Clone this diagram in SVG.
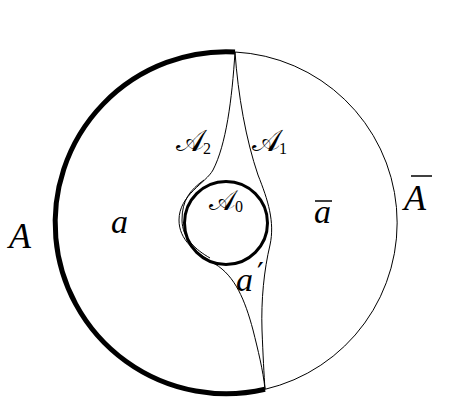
<svg xmlns="http://www.w3.org/2000/svg" width="461" height="402" viewBox="0 0 461 402">
<style>
.thin{fill:none;stroke:#000;stroke-width:1}
.thick{fill:none;stroke:#000;stroke-width:5}
.lbl{font-family:"Liberation Serif","DejaVu Serif",serif;font-style:italic;fill:#000}
.cal{font-family:"DejaVu Serif","Noto Sans","Liberation Serif",serif;fill:#000}
.sub{font-family:"Liberation Serif","DejaVu Serif",serif;font-size:16px;fill:#000}
</style>
<rect width="461" height="402" fill="#fff"/>
<g id="outer-circle">
<path class="thin" d="M235,52 A171,171 0 0 1 265,389.3"/>
<path class="thick" d="M265,389.3 A171,171 0 1 1 235,52"/>
</g>
<g id="inner-circle">
<circle cx="226" cy="223" r="41.5" fill="none" stroke="#000" stroke-width="3"/>
</g>
<g id="connectors">
<path class="thin" d="M235,52 C238,95 246,140 258,175 C268,200 275,222 270,245 C264,270 261,300 262,330 C263,355 264,375 265,389"/>
<path class="thin" d="M235,52 C232,100 226,145 213,170 C206,183 179,195 179,220 C179,240 195,252 215,264 C235,276 245,300 253,330 C258,350 263,370 265,389"/>
<path class="thin" stroke-width="0.8" d="M204,180 C190,190 182,200 182,220 C182,238 196,250 210,258"/>
</g>
<g id="labels">
<text class="lbl" x="9" y="248" font-size="36">A</text>
<text class="lbl" x="111" y="233" font-size="34">a</text>
<text class="lbl" x="314" y="223" font-size="34">a</text>
<line x1="315" y1="201" x2="332" y2="201" stroke="#000" stroke-width="1.5"/>
<text class="lbl" x="404" y="210" font-size="36">A</text>
<line x1="411" y1="176" x2="432" y2="176" stroke="#000" stroke-width="1.5"/>
<text class="lbl" x="236" y="291" font-size="34">a</text>
<text class="cal" x="257" y="284" font-size="30">′</text>
<text class="cal" x="176" y="151" font-size="30">𝒜</text>
<text class="sub" x="203" y="154">2</text>
<text class="cal" x="252" y="151" font-size="30">𝒜</text>
<text class="sub" x="279" y="154">1</text>
<text class="cal" x="209" y="210" font-size="28">𝒜</text>
<text class="sub" x="235" y="212">0</text>
</g>
</svg>
